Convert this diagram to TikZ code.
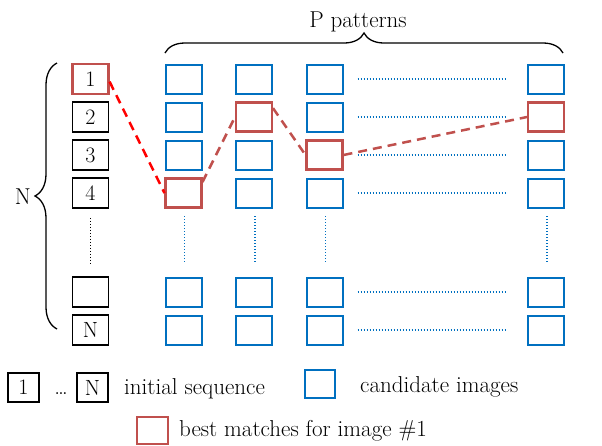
\documentclass[tikz,border=0pt]{standalone}
\usepackage{fontspec}
\usetikzlibrary{decorations.pathreplacing}
\definecolor{cblue}{HTML}{0070C0}
\definecolor{cred}{HTML}{C0504D}
\tikzset{
  txt/.style={font=\fontsize{23}{27}\selectfont, inner sep=0pt},
  seqbox/.style={draw=black, line width=1.6pt, minimum width=36pt, minimum height=30pt, inner sep=0pt, font=\fontsize{22}{26}\selectfont},
  candbox/.style={draw=cblue, line width=2pt, minimum width=36pt, minimum height=29pt, inner sep=0pt},
  bestbox/.style={draw=cred, line width=2.5pt, minimum width=36pt, minimum height=29pt, inner sep=0pt},
  bluedots/.style={draw=cblue, line width=1.6pt, dash pattern=on 1.3pt off 1.7pt},
  blackdots/.style={draw=black, line width=1.6pt, dash pattern=on 1.3pt off 1.7pt},
  matchline/.style={draw=cred, line width=2.5pt, dash pattern=on 9pt off 6pt},
  firstline/.style={draw=red, line width=2.5pt, dash pattern=on 9pt off 6pt},
  bracestyle/.style={draw=black, line width=1.3pt, decorate},
}
\begin{document}
\begin{tikzpicture}[x=1pt,y=1pt]
\useasboundingbox (0,0) rectangle (602,-445);
% initial sequence column
\node[seqbox, draw=cred, line width=2.2pt] (l1) at (90.5,-79) {1};
\node[seqbox] (l2) at (90.5,-117) {2};
\node[seqbox] (l3) at (90.5,-155) {3};
\node[seqbox] (l4) at (90.5,-193) {4};
\node[seqbox] (l5) at (90.5,-292) {};
\node[seqbox] (lN) at (90.5,-330) {N};
\draw[blackdots] (l4.south) ++(0,-9) coordinate (ld1) -- ++(0,-46) coordinate (ld2);
% candidate columns
\foreach \c/\x in {1/183.5,2/254,3/324.5,P/546}{
  \foreach \r/\y in {1/79,2/117,3/155,4/193,5/292,6/330}{
    \node[candbox] (c\c\r) at (\x,-\y) {};
  }
  \draw[bluedots] (\x+1,-216) -- (\x+1,-262);
}
% best matches
\node[bestbox] at (c14) {};
\node[bestbox] at (c22) {};
\node[bestbox] at (c33) {};
\node[bestbox] at (cP2) {};
% horizontal dotted rows
\foreach \r in {1,2,3,4,5,6}{
  \draw[bluedots] ([xshift=14pt]c3\r.east) -- ([xshift=-20pt]cP\r.west);
}
% matching path
\draw[firstline] (l1.-8) -- (c14.west);
\draw[matchline] (c14.30) -- (c22.west);
\draw[matchline] (c22.25) -- (c33.west);
\draw[matchline] (c33.east) -- (cP2.west);
% braces
\draw[bracestyle, decoration={brace, amplitude=20pt}] (165,-53) -- (563,-53);
\node[txt, anchor=base] (ptext) at (358,-27) {P patterns};
\draw[bracestyle, decoration={brace, amplitude=22pt}] (57,-329) -- (57,-63);
\node[txt, anchor=east] (ntext) at (31,-197) {N};
% legend
\node[seqbox, minimum width=31pt, minimum height=29pt] (g1) at (23.5,-387.5) {1};
\node[txt, anchor=base] (gdots) at (61,-394) {\dots};
\node[seqbox, minimum width=31pt, minimum height=29pt] (gN) at (92.5,-387.5) {N};
\node[txt, anchor=base west] (gseq) at (124,-394) {initial sequence};
\node[candbox, minimum width=30pt, minimum height=28pt] (gc) at (320,-384) {};
\node[txt, anchor=base west] (gcand) at (360,-392) {candidate images};
\node[bestbox, minimum width=31pt, minimum height=27pt] (gb) at (152.5,-430.5) {};
\node[txt, anchor=base west] (gbest) at (179,-436) {best matches for image \#1};
\end{tikzpicture}
\end{document}
